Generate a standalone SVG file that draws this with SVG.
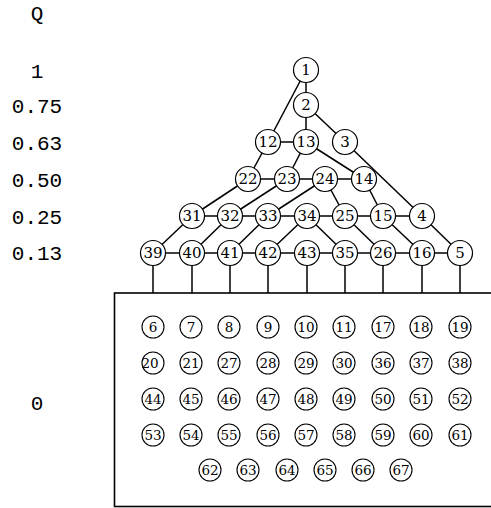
<svg xmlns="http://www.w3.org/2000/svg" width="491" height="508" viewBox="0 0 491 508">
<style>
.lbl{font-family:"Liberation Mono","DejaVu Sans Mono",monospace;font-size:21px;fill:#000;text-anchor:middle}
.n circle{fill:#fff;stroke:#000;stroke-width:1.2}
.n text{font-family:'DejaVu Serif',serif;font-size:15px;fill:#000;text-anchor:middle;dominant-baseline:central}
.b circle{fill:#fff;stroke:#000;stroke-width:1.1}
.b text{font-family:'DejaVu Serif',serif;font-size:13.5px;fill:#000;text-anchor:middle;dominant-baseline:central}
.e line{stroke:#000;stroke-width:1.5}
</style>
<rect width="491" height="508" fill="#fff"/>
<g id="axis">
<text class="lbl" x="37" y="20">Q</text>
<text class="lbl" x="37" y="78">1</text>
<text class="lbl" x="37" y="113">0.75</text>
<text class="lbl" x="37" y="150">0.63</text>
<text class="lbl" x="37" y="187">0.50</text>
<text class="lbl" x="37" y="224">0.25</text>
<text class="lbl" x="37" y="260">0.13</text>
<text class="lbl" x="37" y="410">0</text>
</g>
<g id="connectors" class="e">
<line x1="306" y1="70" x2="306" y2="105"/>
<line x1="306" y1="70" x2="268" y2="142"/>
<line x1="306" y1="105" x2="306" y2="142"/>
<line x1="306" y1="105" x2="345" y2="142"/>
<line x1="268" y1="142" x2="306" y2="142"/>
<line x1="268" y1="142" x2="248" y2="179"/>
<line x1="306" y1="142" x2="287" y2="179"/>
<line x1="306" y1="142" x2="364" y2="179"/>
<line x1="345" y1="142" x2="422" y2="216"/>
<line x1="248" y1="179" x2="364" y2="179"/>
<line x1="248" y1="179" x2="192" y2="216"/>
<line x1="287" y1="179" x2="230" y2="216"/>
<line x1="325" y1="179" x2="268" y2="216"/>
<line x1="325" y1="179" x2="345" y2="216"/>
<line x1="364" y1="179" x2="383" y2="216"/>
<line x1="192" y1="216" x2="422" y2="216"/>
<line x1="192" y1="216" x2="153" y2="253"/>
<line x1="230" y1="216" x2="192" y2="253"/>
<line x1="268" y1="216" x2="230" y2="253"/>
<line x1="307" y1="216" x2="268" y2="253"/>
<line x1="307" y1="216" x2="345" y2="253"/>
<line x1="345" y1="216" x2="383" y2="253"/>
<line x1="383" y1="216" x2="422" y2="253"/>
<line x1="422" y1="216" x2="460" y2="253"/>
<line x1="153" y1="253" x2="460" y2="253"/>
<line x1="153" y1="253" x2="153" y2="293"/>
<line x1="192" y1="253" x2="192" y2="293"/>
<line x1="230" y1="253" x2="230" y2="293"/>
<line x1="268" y1="253" x2="268" y2="293"/>
<line x1="307" y1="253" x2="307" y2="293"/>
<line x1="345" y1="253" x2="345" y2="293"/>
<line x1="383" y1="253" x2="383" y2="293"/>
<line x1="422" y1="253" x2="422" y2="293"/>
<line x1="460" y1="253" x2="460" y2="293"/>
</g>
<g id="box">
<rect x="114.5" y="293" width="400" height="213.5" fill="none" stroke="#000" stroke-width="1.6"/>
</g>
<g id="n1" class="n"><circle cx="306" cy="70" r="12.5"/><text x="306" y="70">1</text></g>
<g id="n2" class="n"><circle cx="306" cy="105" r="12.5"/><text x="306" y="105">2</text></g>
<g id="n12" class="n"><circle cx="268" cy="142" r="12.5"/><text x="268" y="142">12</text></g>
<g id="n13" class="n"><circle cx="306" cy="142" r="12.5"/><text x="306" y="142">13</text></g>
<g id="n3" class="n"><circle cx="345" cy="142" r="12.5"/><text x="345" y="142">3</text></g>
<g id="n22" class="n"><circle cx="248" cy="179" r="12.5"/><text x="248" y="179">22</text></g>
<g id="n23" class="n"><circle cx="287" cy="179" r="12.5"/><text x="287" y="179">23</text></g>
<g id="n24" class="n"><circle cx="325" cy="179" r="12.5"/><text x="325" y="179">24</text></g>
<g id="n14" class="n"><circle cx="364" cy="179" r="12.5"/><text x="364" y="179">14</text></g>
<g id="n31" class="n"><circle cx="192" cy="216" r="12.5"/><text x="192" y="216">31</text></g>
<g id="n32" class="n"><circle cx="230" cy="216" r="12.5"/><text x="230" y="216">32</text></g>
<g id="n33" class="n"><circle cx="268" cy="216" r="12.5"/><text x="268" y="216">33</text></g>
<g id="n34" class="n"><circle cx="307" cy="216" r="12.5"/><text x="307" y="216">34</text></g>
<g id="n25" class="n"><circle cx="345" cy="216" r="12.5"/><text x="345" y="216">25</text></g>
<g id="n15" class="n"><circle cx="383" cy="216" r="12.5"/><text x="383" y="216">15</text></g>
<g id="n4" class="n"><circle cx="422" cy="216" r="12.5"/><text x="422" y="216">4</text></g>
<g id="n39" class="n"><circle cx="153" cy="253" r="12.5"/><text x="153" y="253">39</text></g>
<g id="n40" class="n"><circle cx="192" cy="253" r="12.5"/><text x="192" y="253">40</text></g>
<g id="n41" class="n"><circle cx="230" cy="253" r="12.5"/><text x="230" y="253">41</text></g>
<g id="n42" class="n"><circle cx="268" cy="253" r="12.5"/><text x="268" y="253">42</text></g>
<g id="n43" class="n"><circle cx="307" cy="253" r="12.5"/><text x="307" y="253">43</text></g>
<g id="n35" class="n"><circle cx="345" cy="253" r="12.5"/><text x="345" y="253">35</text></g>
<g id="n26" class="n"><circle cx="383" cy="253" r="12.5"/><text x="383" y="253">26</text></g>
<g id="n16" class="n"><circle cx="422" cy="253" r="12.5"/><text x="422" y="253">16</text></g>
<g id="n5" class="n"><circle cx="460" cy="253" r="12.5"/><text x="460" y="253">5</text></g>
<g id="b6" class="b"><circle cx="153" cy="327" r="11"/><text x="153" y="327">6</text></g>
<g id="b7" class="b"><circle cx="191" cy="327" r="11"/><text x="191" y="327">7</text></g>
<g id="b8" class="b"><circle cx="229" cy="327" r="11"/><text x="229" y="327">8</text></g>
<g id="b9" class="b"><circle cx="268" cy="327" r="11"/><text x="268" y="327">9</text></g>
<g id="b10" class="b"><circle cx="306" cy="327" r="11"/><text x="306" y="327">10</text></g>
<g id="b11" class="b"><circle cx="344" cy="327" r="11"/><text x="344" y="327">11</text></g>
<g id="b17" class="b"><circle cx="383" cy="327" r="11"/><text x="383" y="327">17</text></g>
<g id="b18" class="b"><circle cx="421" cy="327" r="11"/><text x="421" y="327">18</text></g>
<g id="b19" class="b"><circle cx="460" cy="327" r="11"/><text x="460" y="327">19</text></g>
<g id="b20" class="b"><circle cx="153" cy="363" r="11"/><text x="150" y="363">20</text></g>
<g id="b21" class="b"><circle cx="191" cy="363" r="11"/><text x="191" y="363">21</text></g>
<g id="b27" class="b"><circle cx="229" cy="363" r="11"/><text x="229" y="363">27</text></g>
<g id="b28" class="b"><circle cx="268" cy="363" r="11"/><text x="268" y="363">28</text></g>
<g id="b29" class="b"><circle cx="306" cy="363" r="11"/><text x="306" y="363">29</text></g>
<g id="b30" class="b"><circle cx="344" cy="363" r="11"/><text x="344" y="363">30</text></g>
<g id="b36" class="b"><circle cx="383" cy="363" r="11"/><text x="383" y="363">36</text></g>
<g id="b37" class="b"><circle cx="421" cy="363" r="11"/><text x="421" y="363">37</text></g>
<g id="b38" class="b"><circle cx="460" cy="363" r="11"/><text x="460" y="363">38</text></g>
<g id="b44" class="b"><circle cx="153" cy="399" r="11"/><text x="153" y="399">44</text></g>
<g id="b45" class="b"><circle cx="191" cy="399" r="11"/><text x="191" y="399">45</text></g>
<g id="b46" class="b"><circle cx="229" cy="399" r="11"/><text x="229" y="399">46</text></g>
<g id="b47" class="b"><circle cx="268" cy="399" r="11"/><text x="268" y="399">47</text></g>
<g id="b48" class="b"><circle cx="306" cy="399" r="11"/><text x="306" y="399">48</text></g>
<g id="b49" class="b"><circle cx="344" cy="399" r="11"/><text x="344" y="399">49</text></g>
<g id="b50" class="b"><circle cx="383" cy="399" r="11"/><text x="383" y="399">50</text></g>
<g id="b51" class="b"><circle cx="421" cy="399" r="11"/><text x="421" y="399">51</text></g>
<g id="b52" class="b"><circle cx="460" cy="399" r="11"/><text x="460" y="399">52</text></g>
<g id="b53" class="b"><circle cx="153" cy="435" r="11"/><text x="153" y="435">53</text></g>
<g id="b54" class="b"><circle cx="191" cy="435" r="11"/><text x="191" y="435">54</text></g>
<g id="b55" class="b"><circle cx="229" cy="435" r="11"/><text x="229" y="435">55</text></g>
<g id="b56" class="b"><circle cx="268" cy="435" r="11"/><text x="268" y="435">56</text></g>
<g id="b57" class="b"><circle cx="306" cy="435" r="11"/><text x="306" y="435">57</text></g>
<g id="b58" class="b"><circle cx="344" cy="435" r="11"/><text x="344" y="435">58</text></g>
<g id="b59" class="b"><circle cx="383" cy="435" r="11"/><text x="383" y="435">59</text></g>
<g id="b60" class="b"><circle cx="421" cy="435" r="11"/><text x="421" y="435">60</text></g>
<g id="b61" class="b"><circle cx="460" cy="435" r="11"/><text x="460" y="435">61</text></g>
<g id="b62" class="b"><circle cx="210" cy="470" r="11"/><text x="210" y="470">62</text></g>
<g id="b63" class="b"><circle cx="248" cy="470" r="11"/><text x="248" y="470">63</text></g>
<g id="b64" class="b"><circle cx="287" cy="470" r="11"/><text x="287" y="470">64</text></g>
<g id="b65" class="b"><circle cx="325" cy="470" r="11"/><text x="325" y="470">65</text></g>
<g id="b66" class="b"><circle cx="363" cy="470" r="11"/><text x="363" y="470">66</text></g>
<g id="b67" class="b"><circle cx="401" cy="470" r="11"/><text x="401" y="470">67</text></g>
</svg>
